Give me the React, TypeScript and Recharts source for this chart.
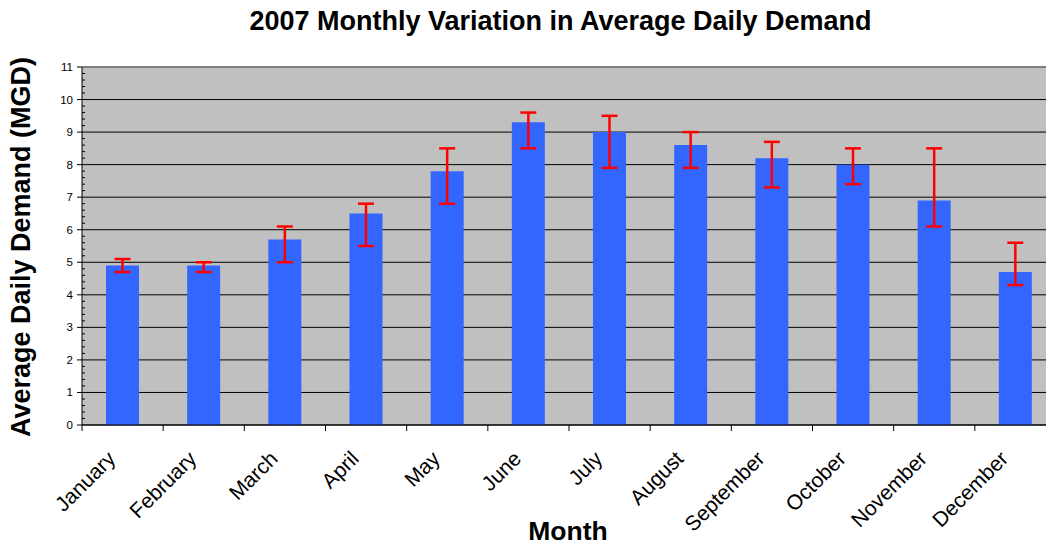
import React from 'react';
import { BarChart, Bar, XAxis, YAxis, CartesianGrid, ErrorBar, ReferenceLine } from 'recharts';

const months = ['January', 'February', 'March', 'April', 'May', 'June', 'July', 'August', 'September', 'October', 'November', 'December'];
const demand = [4.9, 4.9, 5.7, 6.5, 7.8, 9.3, 9.0, 8.6, 8.2, 8.0, 6.9, 4.7];
const errMinus = [0.2, 0.2, 0.7, 1.0, 1.0, 0.8, 1.1, 0.7, 0.9, 0.6, 0.8, 0.4];
const errPlus = [0.2, 0.1, 0.4, 0.3, 0.7, 0.3, 0.5, 0.4, 0.5, 0.5, 1.6, 0.9];
const majorTicks = [0, 1, 2, 3, 4, 5, 6, 7, 8, 9, 10, 11];
const minorStep = 0.2;

const allTicks: number[] = [];
for (let i = 0; i <= 55; i++) allTicks.push(Math.round(i * minorStep * 10) / 10);

const data = months.map((m, i) => ({ month: m, demand: demand[i], err: [errMinus[i], errPlus[i]] }));

const FONT = 'Arial, "Liberation Sans", Helvetica, sans-serif';

const YTick = (props: any) => {
  const { x, y, payload } = props;
  const v = payload.value;
  const major = Math.abs(v - Math.round(v)) < 1e-6;
  if (major) {
    return (
      <g>
        <line x1={x - 5} x2={x} y1={y} y2={y} stroke="#000" strokeWidth={1} />
        <text x={x - 9} y={y} dy={4} textAnchor="end" fontSize={11.5} fontFamily={FONT} fill="#000">
          {Math.round(v)}
        </text>
      </g>
    );
  }
  return <line x1={x} x2={x + 3} y1={y} y2={y} stroke="#000" strokeWidth={1} />;
};

const XTick = (props: any) => {
  const { x, y, payload } = props;
  const off = payload.offset ?? 40.6;
  const px = x - 6;
  const py = y + 35;
  return (
    <g>
      <line x1={x - off} x2={x - off} y1={y} y2={y + 6} stroke="#000" strokeWidth={1} />
      <text
        x={px}
        y={py}
        textAnchor="end"
        fontSize={21}
        fontFamily={FONT}
        fill="#000"
        transform={`rotate(-45, ${px}, ${py})`}
      >
        {payload.value}
      </text>
    </g>
  );
};

export default function App() {
  return (
    <div style={{ position: 'fixed', left: 0, top: 0, width: 1046, height: 546, overflow: 'hidden', background: '#fff', fontFamily: FONT }}>
      <div style={{ position: 'absolute', left: 0, top: 0 }}>
        <BarChart
          width={1070}
          height={546}
          data={data}
          margin={{ top: 67, right: 14, bottom: 31, left: 0 }}
          barSize={33}
        >
          <CartesianGrid
            vertical={false}
            stroke="#000"
            fill="#C0C0C0"
            fillOpacity={1}
            horizontalValues={majorTicks}
          />
          <XAxis
            dataKey="month"
            interval={0}
            height={90}
            tickSize={0}
            tickMargin={0}
            tickLine={false}
            axisLine={{ stroke: '#000', strokeWidth: 1 }}
            tick={<XTick />}
          />
          <YAxis
            type="number"
            domain={[0, 11]}
            ticks={allTicks}
            interval={0}
            width={82}
            tickSize={0}
            tickMargin={0}
            tickLine={false}
            axisLine={{ stroke: '#000', strokeWidth: 1 }}
            tick={<YTick />}
          />
          <ReferenceLine y={11} stroke="#808080" strokeWidth={2} />
          <Bar dataKey="demand" fill="#3366FF" isAnimationActive={false}>
            <ErrorBar dataKey="err" width={8} stroke="#FF0000" strokeWidth={2.5} direction="y" />
          </Bar>
        </BarChart>
      </div>
      <div style={{ position: 'absolute', left: 0, width: 1121, top: 5, textAlign: 'center', fontSize: 27, fontWeight: 'bold', lineHeight: '32px', whiteSpace: 'nowrap' }}>
        2007 Monthly Variation in Average Daily Demand
      </div>
      <div style={{ position: 'absolute', left: 468, width: 200, top: 515, textAlign: 'center', fontSize: 26.5, fontWeight: 'bold', lineHeight: '32px', whiteSpace: 'nowrap' }}>
        Month
      </div>
      <div
        style={{
          position: 'absolute',
          left: 21 - 250,
          top: 247 - 16,
          width: 500,
          height: 32,
          lineHeight: '32px',
          textAlign: 'center',
          fontSize: 27,
          fontWeight: 'bold',
          whiteSpace: 'nowrap',
          transform: 'rotate(-90deg)',
          transformOrigin: '250px 16px',
        }}
      >
        Average Daily Demand (MGD)
      </div>
    </div>
  );
}
